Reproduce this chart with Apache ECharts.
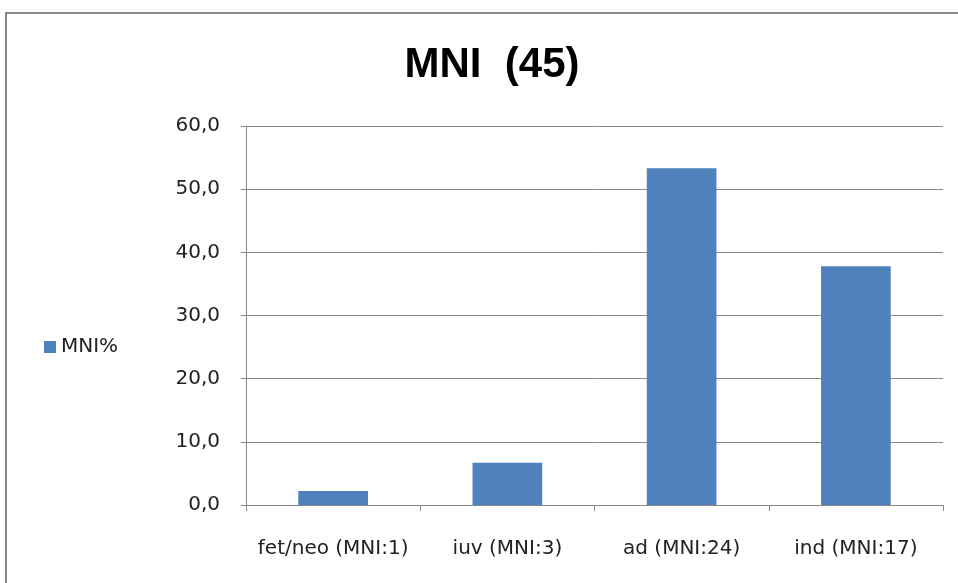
<!DOCTYPE html>
<html><head><meta charset="utf-8">
<script src="https://cdn.jsdelivr.net/npm/echarts@6/dist/echarts.min.js"></script>
<style>html,body{margin:0;padding:0;background:#fff}#c{width:958px;height:583px}</style>
</head><body><div id="c"></div>
<script>
const categories = ['fet/neo (MNI:1)', 'iuv (MNI:3)', 'ad (MNI:24)', 'ind (MNI:17)'];
const mniPercent = [2.2, 6.7, 53.3, 37.8];
const seriesName = 'MNI%';
const titleText = 'MNI  (45)';

const chart = echarts.init(document.getElementById('c'));
chart.setOption({
  animation: false,
  backgroundColor: '#fff',
  graphic: [{
    type: 'rect',
    shape: { x: 6, y: 13, width: 1000, height: 1000 },
    style: { fill: 'none', stroke: '#888888', lineWidth: 2 }
  }],
  title: {
    text: titleText, left: 487, top: 39, textAlign: 'center',
    textStyle: { fontFamily: 'Liberation Sans', fontWeight: 'bold', fontSize: 42, color: '#000' }
  },
  legend: {
    orient: 'vertical', left: 39, top: 332,
    itemWidth: 12, itemHeight: 12, itemGap: 6,
    icon: 'rect',
    textStyle: { fontFamily: 'DejaVu Sans', fontSize: 20, color: '#222' },
    data: [seriesName]
  },
  grid: { left: 246, right: 15, top: 126, bottom: 78, containLabel: false },
  xAxis: {
    type: 'category', data: categories,
    axisLine: { lineStyle: { color: '#888888', width: 1 } },
    axisTick: { show: true, length: 6, lineStyle: { color: '#888888' } },
    axisLabel: { margin: 34, fontFamily: 'DejaVu Sans', fontSize: 20, color: '#222', interval: 0 }
  },
  yAxis: {
    type: 'value', min: 0, max: 60, interval: 10,
    axisLine: { show: true, lineStyle: { color: '#888888' } },
    axisTick: { show: true, inside: false, length: 5, lineStyle: { color: '#888888' } },
    splitLine: { lineStyle: { color: '#888888', width: 1 } },
    axisLabel: {
      margin: 26, fontFamily: 'DejaVu Sans', fontSize: 20, color: '#222',
      formatter: v => v.toFixed(1).replace('.', ',')
    }
  },
  series: [{
    name: seriesName, type: 'bar', data: mniPercent,
    barCategoryGap: '60%',
    itemStyle: { color: '#4F81BD' }
  }]
});
</script></body></html>
